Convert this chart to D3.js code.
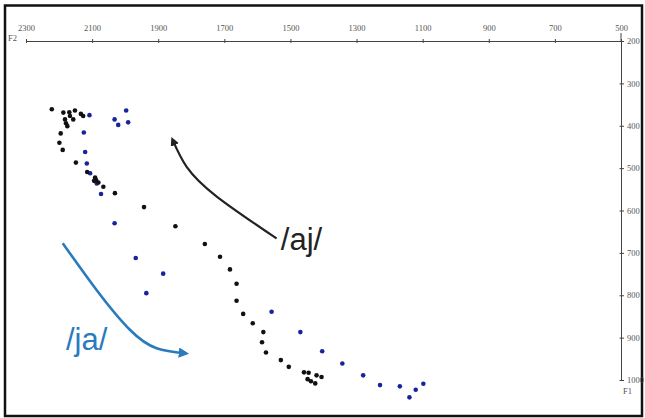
<!DOCTYPE html>
<html>
<head>
<meta charset="utf-8">
<script src="https://cdn.jsdelivr.net/npm/d3@7"></script>
<style>
  body { margin: 0; background: #fff; }
  svg { display: block; }
</style>
</head>
<body>
<svg id="chart" width="645" height="418"></svg>
<script>
// F2 / F1 readings (Hz) for the two diphthongs
const ajF2 = [2222, 2187, 2169, 2152, 2134, 2127, 2167, 2182, 2157, 2179, 2175, 2195, 2199, 2189,
              2149, 2115, 2091, 2088, 2094, 2081, 2066, 2031, 1943, 1848, 1759, 1713, 1683, 1663,
              1663, 1643, 1614, 1582, 1586, 1574, 1529, 1505, 1459, 1445, 1421, 1406, 1448, 1438, 1425];
const ajF1 = [361, 369, 368, 364, 372, 377, 377, 385, 385, 394, 401, 418, 440, 457,
              487, 509, 522, 528, 530, 534, 544, 559, 592, 637, 679, 709, 739, 773,
              813, 844, 866, 887, 911, 935, 953, 969, 982, 983, 989, 993, 998, 1003, 1008];

const jaF2 = [2108, 1997, 2032, 2021, 1991, 2125, 2121, 2116, 2106, 2086, 2073, 2032, 1968,
              1885, 1936, 1557, 1470, 1404, 1343, 1280, 1229, 1169, 1121, 1098, 1140];
const jaF1 = [375, 364, 385, 398, 392, 416, 462, 489, 512, 536, 561, 630, 712,
              749, 795, 839, 887, 932, 961, 989, 1012, 1015, 1023, 1009, 1041];

const f2Ticks = [2300, 2100, 1900, 1700, 1500, 1300, 1100, 900, 700, 500];
const f1Ticks = [200, 300, 400, 500, 600, 700, 800, 900, 1000];

// arrow paths, in data units
const ajArrow = [[1542, 666], [1723, 567], [1814, 497], [1856, 434]];
const jaArrow = [[2189, 677], [2086, 788], [1985, 882], [1905, 925], [1819, 937]];

const svg = d3.select("#chart");

var x = d3.scaleLinear()
    .domain([2300, 500])
    .range([26, 621]);

var y = d3.scaleLinear()
    .domain([200, 1000])
    .range([41, 380]);

// frame around the whole figure
svg.append("rect")
    .attr("x", 5).attr("y", 5.5)
    .attr("width", 637).attr("height", 410.5)
    .attr("fill", "none")
    .attr("stroke", "#111")
    .attr("stroke-width", 2.5);

var xAxis = d3.axisTop(x)
    .tickValues(f2Ticks)
    .tickSize(3)
    .tickSizeOuter(0)
    .tickPadding(7)
    .tickFormat(d3.format("d"));

var yAxis = d3.axisRight(y)
    .tickValues(f1Ticks)
    .tickSize(3)
    .tickSizeOuter(0)
    .tickPadding(3)
    .tickFormat(d3.format("d"));

var gx = svg.append("g")
    .attr("transform", "translate(0," + y(200) + ")")
    .call(xAxis);

var gy = svg.append("g")
    .attr("transform", "translate(" + x(500) + ",0)")
    .call(yAxis);

// ticks straddle the axis line a little
gx.selectAll(".tick line").attr("y2", -2).attr("y1", 2);
gy.selectAll(".tick line").attr("x1", -1.5).attr("x2", 3);

[gx, gy].forEach(g => {
    g.select(".domain").attr("stroke", "#444");
    g.selectAll(".tick line").attr("stroke", "#444");
    g.selectAll("text")
        .attr("fill", "#555")
        .attr("font-family", "Liberation Serif, Times New Roman, serif")
        .attr("font-size", 8.5);
});

// y axis line pokes a little above the x axis
gy.append("line")
    .attr("x1", 0).attr("x2", 0)
    .attr("y1", y(200) - 8).attr("y2", y(200))
    .attr("stroke", "#444");

svg.append("text")
    .attr("x", 8).attr("y", 41)
    .attr("font-family", "Liberation Serif, Times New Roman, serif")
    .attr("font-size", 8.5).attr("fill", "#555")
    .text("F2");

svg.append("text")
    .attr("x", 623).attr("y", 394)
    .attr("font-family", "Liberation Serif, Times New Roman, serif")
    .attr("font-size", 8.5).attr("fill", "#555")
    .text("F1");

// data points
svg.append("g")
    .selectAll("circle")
    .data(d3.range(jaF2.length))
    .enter()
    .append("circle")
    .attr("r", 2.3)
    .attr("fill", "#18249c")
    .attr("cx", i => x(jaF2[i]))
    .attr("cy", i => y(jaF1[i]));

svg.append("g")
    .selectAll("circle")
    .data(d3.range(ajF2.length))
    .enter()
    .append("circle")
    .attr("r", 2.3)
    .attr("fill", "#111")
    .attr("cx", i => x(ajF2[i]))
    .attr("cy", i => y(ajF1[i]));

// arrows
var defs = svg.append("defs");
function marker(id, color) {
    defs.append("marker")
        .attr("id", id)
        .attr("viewBox", "0 0 10 10")
        .attr("refX", 6).attr("refY", 5)
        .attr("markerWidth", 4).attr("markerHeight", 4)
        .attr("orient", "auto")
        .append("path")
        .attr("d", "M0,0 L10,5 L0,10 z")
        .attr("fill", color);
}
marker("headK", "#222");
marker("headB", "#2a7bbd");

var lineMaker = d3.line()
    .x(d => x(d[0]))
    .y(d => y(d[1]))
    .curve(d3.curveNatural);

svg.append("path")
    .attr("fill", "none")
    .attr("stroke", "#222")
    .attr("stroke-width", 2.2)
    .attr("marker-end", "url(#headK)")
    .attr("d", lineMaker(ajArrow));

svg.append("path")
    .attr("fill", "none")
    .attr("stroke", "#2a7bbd")
    .attr("stroke-width", 2.6)
    .attr("marker-end", "url(#headB)")
    .attr("d", lineMaker(jaArrow));

svg.append("text")
    .attr("x", x(1529)).attr("y", y(693))
    .attr("font-family", "Liberation Sans, Arial, sans-serif")
    .attr("font-size", 31)
    .attr("fill", "#222")
    .text("/aj/");

svg.append("text")
    .attr("x", x(2179)).attr("y", y(929))
    .attr("font-family", "Liberation Sans, Arial, sans-serif")
    .attr("font-size", 31)
    .attr("fill", "#2a7bbd")
    .text("/ja/");
</script>
</body>
</html>
